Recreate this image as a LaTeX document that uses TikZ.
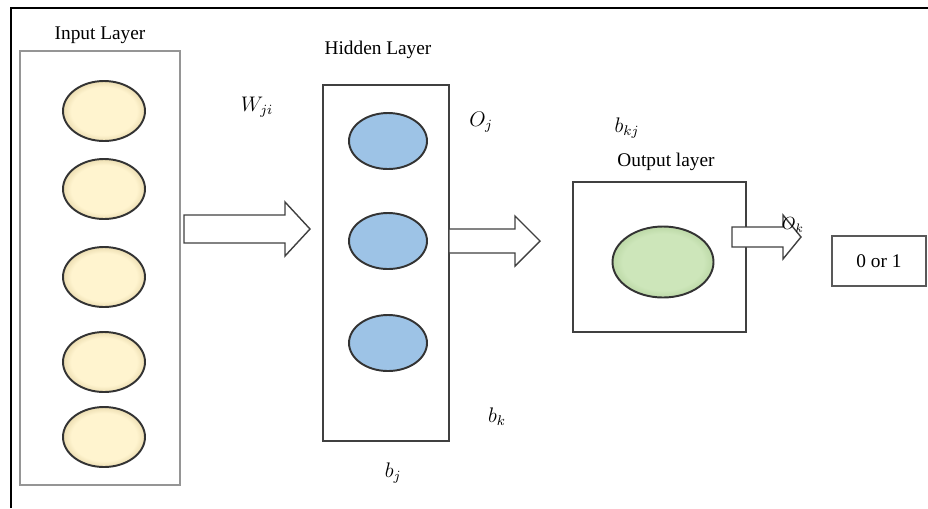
\documentclass[tikz,border=0pt]{standalone}
\usepackage{fontspec}
\setmainfont{Liberation Serif}
\usetikzlibrary{positioning,shapes.geometric}
\definecolor{NNBeige}{HTML}{FFF4CF}
\definecolor{NNBeigeRim}{HTML}{C9B47C}
\definecolor{NNBlue}{HTML}{9DC3E6}
\definecolor{NNBlueRim}{HTML}{7EA6CF}
\definecolor{NNGreen}{HTML}{CDE6BA}
\definecolor{NNGreenRim}{HTML}{9DC083}
\definecolor{NNGray}{HTML}{959595}
\pgfdeclareradialshading{beigeball}{\pgfpoint{0bp}{0bp}}{color(0bp)=(NNBeige); color(20bp)=(NNBeige); color(34bp)=(NNBeigeRim); color(50bp)=(NNBeigeRim)}
\pgfdeclareradialshading{blueball}{\pgfpoint{0bp}{0bp}}{color(0bp)=(NNBlue); color(24bp)=(NNBlue); color(34bp)=(NNBlueRim); color(50bp)=(NNBlueRim)}
\pgfdeclareradialshading{greenball}{\pgfpoint{0bp}{0bp}}{color(0bp)=(NNGreen); color(20bp)=(NNGreen); color(34bp)=(NNGreenRim); color(50bp)=(NNGreenRim)}

\begin{document}
\begin{tikzpicture}[
  x=0.2mm, y=-0.2mm,
  lbl/.style={font=\fontsize{11}{13}\selectfont, inner sep=1pt},
  sym/.style={font=\fontsize{12}{14}\selectfont, inner sep=1pt},
  frame/.style={draw=black, line width=1.1pt},
  layerbox/.style={draw=black!75, line width=0.8pt, minimum width=#1, inner sep=0pt},
  neuron/.style={ellipse, draw=black!80, line width=1.1pt, inner sep=0pt},
  blockarrow/.style={draw=black!75, line width=0.8pt, fill=white, line join=miter}
]
\useasboundingbox (0,0) rectangle (928,508);
\draw[frame] (11,508) -- (11,8) -- (928,8);

% input layer
\node[lbl] (inlbl) at (100,35) {Input Layer};
\node[layerbox=32mm, draw=NNGray, line width=1.1pt, minimum height=86.8mm] (inbox) at (100,268) {};
\foreach \i/\y in {1/111,2/189,3/277,4/362,5/437}
  \node[neuron, shade, shading=beigeball, minimum width=16.4mm, minimum height=12mm] (in\i) at (104,\y) {};

\node[sym] (wji) at (257,107) {$W_{ji}$};
\draw[blockarrow] (184,215) -- (285,215) -- (285,202) -- (310,229) -- (285,256) -- (285,243) -- (184,243) -- cycle;

% hidden layer
\node[lbl] (hidlbl) at (378,50) {Hidden Layer};
\node[layerbox=25.2mm, minimum height=71.2mm] (hidbox) at (386,263) {};
\foreach \i/\y in {1/141,2/241,3/343}
  \node[neuron, shade, shading=blueball, minimum width=15.6mm, minimum height=11.2mm] (hid\i) at (388,\y) {};
\node[sym] (oj) at (481,122) {$O_j$};
\node[sym] (bk) at (497,417) {$b_k$};
\node[sym] (bj) at (393,473) {$b_j$};

\draw[blockarrow] (449,229) -- (515,229) -- (515,216) -- (540,241) -- (515,266) -- (515,253) -- (449,253) -- cycle;

% output layer
\node[sym] (bkj) at (627,128) {$b_{kj}$};
\node[lbl] (outlbl) at (666,162) {Output layer};
\node[layerbox=34.6mm, minimum height=30mm] (outbox) at (659.5,257) {};
\node[neuron, shade, shading=greenball, minimum width=20.2mm, minimum height=14.2mm] (out1) at (663,262) {};

\draw[blockarrow] (732,227) -- (783,227) -- (783,215) -- (801,237) -- (783,259) -- (783,247) -- (732,247) -- cycle;
\node[sym, font=\fontsize{10}{12}\selectfont] (ok) at (793,225) {$O_k$};

\node[layerbox=18.8mm, draw=black!65, minimum height=10mm, lbl] (res) at (879,261) {0 or 1};
\end{tikzpicture}
\end{document}
